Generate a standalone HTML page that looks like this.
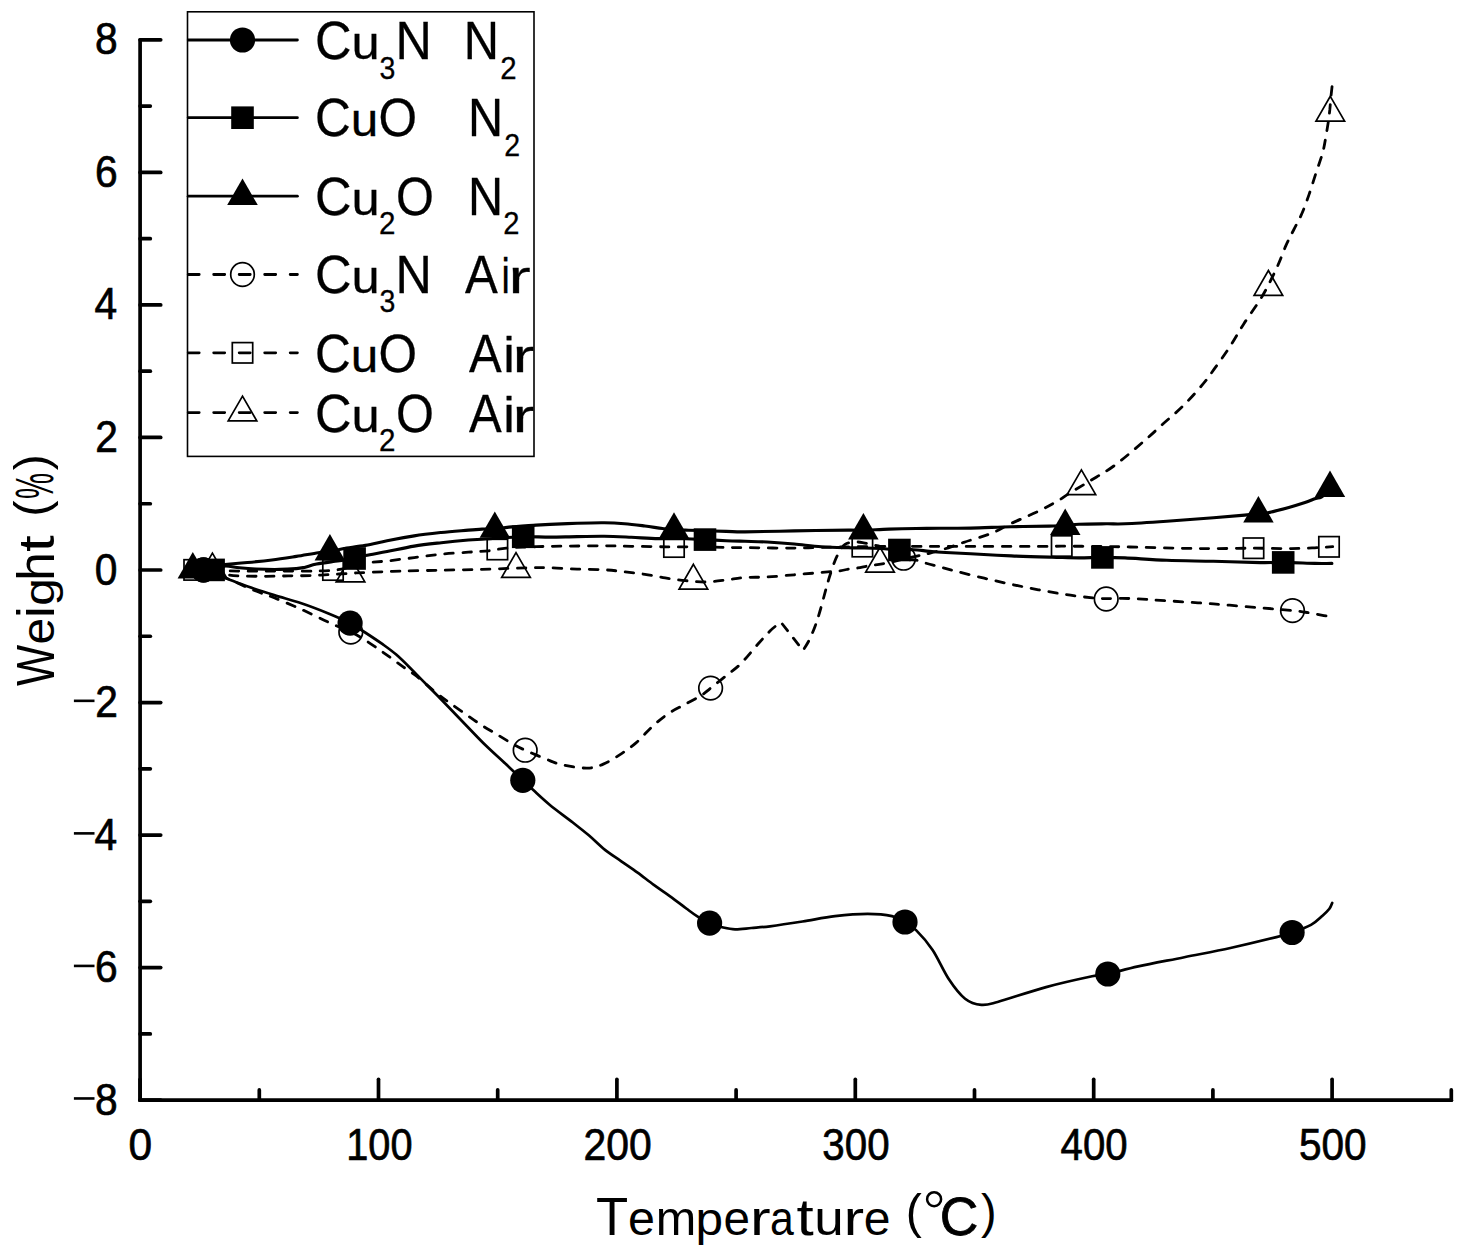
<!DOCTYPE html>
<html><head><meta charset="utf-8"><style>
html,body{margin:0;padding:0;background:#fff;}
svg{display:block;}
text{font-family:"Liberation Sans", sans-serif;fill:#000;}
.tk{stroke:#000;stroke-width:0.7px;}
.lg text{stroke:#000;stroke-width:0.3px;}
</style></head><body>
<svg width="1476" height="1254" viewBox="0 0 1476 1254">
<rect width="1476" height="1254" fill="#fff"/>
<path d="M203.5,570.0 C210.6,572.5 216.4,574.1 224.8,577.5 C233.2,580.9 245.7,586.9 253.9,590.3 C262.1,593.7 266.3,594.6 274.2,597.8 C282.1,601.0 292.3,605.2 301.3,609.3 C310.3,613.4 320.1,618.4 328.4,622.2 C336.6,626.0 344.9,629.3 350.8,632.1 C356.7,634.9 358.3,635.8 363.6,639.1 C368.9,642.4 377.2,648.2 382.6,652.0 C388.0,655.8 392.2,658.9 396.2,661.8 C400.2,664.7 403.1,666.8 406.5,669.2 C409.9,671.6 411.4,672.1 416.3,676.0 C421.2,679.9 430.4,688.1 435.8,692.5 C441.2,696.9 443.9,698.8 448.8,702.3 C453.7,705.8 459.6,709.9 465.0,713.7 C470.4,717.5 475.9,721.5 481.3,725.0 C486.7,728.5 492.2,731.5 497.6,734.8 C503.0,738.1 509.2,742.0 513.8,744.6 C518.4,747.2 519.8,747.8 525.2,750.2 C530.6,752.6 540.1,756.8 546.3,759.2 C552.5,761.7 555.8,763.4 562.6,764.9 C569.4,766.4 580.2,768.2 587.0,768.1 C593.8,768.0 597.8,766.4 603.3,764.1 C608.8,761.9 614.5,758.2 620.0,754.6 C625.5,751.0 630.9,747.3 636.3,742.6 C641.7,737.9 647.1,731.2 652.5,726.3 C657.9,721.4 663.4,716.9 668.8,713.3 C674.2,709.6 679.6,707.4 685.0,704.4 C690.4,701.4 697.0,698.1 701.3,695.4 C705.6,692.7 706.3,691.5 710.6,688.1 C714.9,684.7 721.9,679.1 727.0,675.0 C732.1,670.9 735.8,668.7 741.0,663.5 C746.2,658.3 753.2,649.4 758.0,644.0 C762.8,638.6 766.8,634.2 770.0,631.0 C773.2,627.8 775.2,626.5 777.0,625.0 C778.8,623.5 779.7,623.2 781.0,622.3 C788.3,631.7 795.7,641.1 803.0,650.5 C805.0,647.2 807.0,644.5 809.0,640.5 C811.0,636.5 813.2,631.4 815.0,626.5 C816.8,621.6 818.2,617.2 820.0,611.0 C821.8,604.8 824.4,594.8 826.0,589.0 C827.6,583.2 828.1,581.2 829.6,576.5 C831.1,571.8 833.2,565.2 834.9,561.0 C836.6,556.8 837.9,554.3 839.6,551.5 C841.3,548.7 842.5,546.0 845.0,544.4 C847.5,542.8 851.5,542.3 854.6,542.0 C857.7,541.7 860.6,542.3 863.6,542.8 C866.6,543.3 869.5,544.5 872.5,545.2 C875.5,545.9 876.3,544.8 881.5,547.0 C886.7,549.2 897.8,556.0 903.6,558.2 C909.4,560.4 912.5,559.3 916.4,560.2 C920.3,561.1 923.6,562.5 927.0,563.5 C930.4,564.5 931.8,564.8 936.8,566.1 C941.8,567.4 949.2,569.5 957.1,571.5 C965.0,573.5 975.2,576.1 984.2,578.2 C993.2,580.3 1002.3,582.4 1011.3,584.3 C1020.3,586.2 1029.4,588.1 1038.4,589.8 C1047.4,591.5 1056.5,593.1 1065.5,594.5 C1074.5,595.9 1085.8,597.2 1092.6,597.9 C1099.4,598.6 1100.1,598.5 1106.2,598.6 C1112.3,598.7 1119.3,598.1 1129.4,598.5 C1139.5,598.9 1152.8,599.9 1166.8,600.8 C1180.8,601.7 1197.9,602.7 1213.5,603.9 C1229.1,605.1 1247.1,606.7 1260.3,607.8 C1273.5,608.9 1284.7,609.8 1292.5,610.6 C1300.3,611.4 1300.3,611.4 1307.0,612.5 C1313.7,613.6 1324.1,615.6 1332.7,617.1" fill="none" stroke="#000" stroke-width="2.8" stroke-linejoin="round" stroke-dasharray="8.5 9.5" stroke-linecap="round"/>
<path d="M194.2,569.9 C206.3,570.2 220.2,570.7 230.4,570.9 C240.7,571.1 247.4,571.2 255.7,571.2 C264.0,571.2 271.9,571.0 280.0,571.0 C288.1,571.0 297.6,571.2 304.4,571.2 C311.2,571.2 315.6,571.1 320.7,570.9 C325.8,570.7 330.1,570.9 335.0,570.2 C339.9,569.6 344.9,568.2 350.0,567.0 C355.1,565.8 359.2,564.0 365.4,563.0 C371.6,562.0 379.0,561.9 387.1,561.0 C395.2,560.1 405.2,558.7 414.2,557.6 C423.2,556.5 432.3,555.1 441.3,554.2 C450.3,553.3 460.5,552.8 468.4,552.2 C476.3,551.6 482.4,551.5 488.7,550.8 C495.0,550.1 498.4,548.8 506.3,548.1 C514.2,547.4 527.2,547.0 536.2,546.7 C545.2,546.4 548.7,546.4 560.0,546.2 C571.3,546.1 592.3,545.8 604.2,545.8 C616.1,545.8 622.3,546.1 631.3,546.3 C640.3,546.4 651.3,546.6 658.4,546.7 C665.5,546.8 667.2,547.0 674.0,547.0 C680.8,547.0 690.3,546.6 699.0,546.7 C707.7,546.8 717.7,547.3 726.2,547.5 C734.7,547.7 738.7,547.6 750.0,547.7 C761.3,547.8 782.3,548.2 794.2,548.1 C806.1,548.0 809.9,547.6 821.3,547.4 C832.7,547.1 847.1,546.8 862.4,546.6 C877.7,546.4 896.9,546.4 913.2,546.4 C929.5,546.4 939.1,546.4 960.0,546.4 C980.9,546.4 1021.5,546.4 1038.4,546.4 C1055.4,546.4 1051.4,546.2 1061.7,546.2 C1072.0,546.2 1088.6,546.3 1100.0,546.4 C1111.4,546.5 1116.3,546.7 1130.0,547.0 C1143.7,547.3 1168.4,548.0 1182.3,548.3 C1196.2,548.6 1201.6,548.6 1213.5,548.6 C1225.4,548.6 1240.5,548.2 1253.5,548.2 C1266.5,548.2 1281.2,548.7 1291.4,548.6 C1301.6,548.5 1307.9,548.1 1314.8,547.8 C1321.7,547.5 1326.7,547.1 1332.7,546.7" fill="none" stroke="#000" stroke-width="2.8" stroke-linejoin="round" stroke-dasharray="8.5 9.5" stroke-linecap="round"/>
<path d="M212.4,569.7 C216.8,571.2 221.1,573.3 225.6,574.3 C230.1,575.3 233.0,575.6 239.4,575.9 C245.8,576.2 255.7,576.3 263.8,576.3 C271.9,576.3 280.1,576.0 288.2,575.9 C296.3,575.8 306.0,575.7 312.6,575.5 C319.2,575.3 321.7,575.1 328.0,574.7 C334.3,574.3 344.3,573.7 350.5,573.3 C356.7,572.9 357.0,572.9 365.4,572.5 C373.8,572.1 388.0,571.5 400.7,571.1 C413.4,570.7 427.8,570.5 441.3,570.2 C454.9,569.9 470.7,569.7 482.0,569.4 C493.3,569.1 501.0,568.7 509.0,568.4 C517.0,568.1 523.2,567.9 530.0,567.8 C536.8,567.7 542.1,567.6 550.0,567.8 C557.9,568.0 568.1,568.8 577.1,569.1 C586.1,569.4 596.3,569.3 604.2,569.8 C612.1,570.2 617.7,571.0 624.5,571.8 C631.3,572.5 638.1,573.3 644.9,574.3 C651.7,575.3 658.4,576.8 665.2,577.9 C672.0,579.0 678.7,579.9 685.5,580.6 C692.3,581.3 699.0,582.1 705.8,582.0 C712.6,581.9 719.7,580.8 726.2,580.0 C732.8,579.2 738.3,578.0 745.1,577.5 C751.9,577.0 758.9,577.5 767.1,577.0 C775.3,576.5 785.2,575.5 794.2,574.8 C803.2,574.0 813.7,573.2 821.3,572.5 C828.9,571.8 835.2,571.4 840.0,570.8 C844.8,570.2 846.9,569.3 849.8,568.8 C852.7,568.3 854.8,568.4 857.5,568.0 C860.2,567.6 863.5,566.8 866.0,566.3 C868.5,565.8 869.8,565.5 872.5,565.1 C875.2,564.7 877.7,564.8 882.3,563.9 C886.9,563.0 894.0,561.4 900.0,560.0 C906.0,558.6 913.1,556.9 918.0,555.8 C922.9,554.7 925.3,554.3 929.4,553.3 C933.5,552.3 936.6,551.5 942.4,549.7 C948.1,547.9 955.8,545.0 963.9,542.3 C972.0,539.6 983.1,536.6 991.0,533.5 C998.9,530.4 1003.4,527.1 1011.3,523.4 C1019.2,519.7 1030.5,515.0 1038.4,511.2 C1046.3,507.4 1054.0,503.0 1058.7,500.3 C1063.5,497.6 1061.8,498.1 1066.9,494.9 C1072.0,491.7 1081.6,486.0 1089.4,481.2 C1097.2,476.4 1105.0,472.4 1113.8,466.0 C1122.6,459.6 1134.2,449.6 1142.3,442.6 C1150.4,435.7 1155.8,430.4 1162.6,424.3 C1169.4,418.2 1176.2,412.8 1183.0,406.0 C1189.8,399.2 1197.9,390.1 1203.3,383.7 C1208.7,377.3 1211.0,373.5 1215.4,367.4 C1219.8,361.3 1225.0,354.3 1229.7,347.0 C1234.5,339.7 1238.5,332.1 1243.9,323.7 C1249.3,315.2 1256.8,305.5 1262.2,296.3 C1267.6,287.1 1272.4,277.1 1276.4,268.6 C1280.4,260.1 1283.1,251.9 1286.0,245.4 C1288.9,238.9 1291.2,234.8 1293.9,229.5 C1296.6,224.2 1299.4,219.3 1301.9,213.5 C1304.4,207.7 1306.7,201.3 1309.1,194.4 C1311.5,187.5 1314.0,179.0 1316.3,172.1 C1318.5,165.2 1321.0,158.8 1322.6,152.9 C1324.2,147.1 1324.9,142.1 1325.8,137.0 C1326.7,131.9 1327.5,127.1 1328.2,122.6 C1328.9,118.1 1329.3,114.2 1329.8,109.9 C1330.2,105.7 1330.5,101.2 1330.9,97.1 C1331.3,93.0 1331.8,89.2 1332.2,85.2" fill="none" stroke="#000" stroke-width="2.8" stroke-linejoin="round" stroke-dasharray="8.5 9.5" stroke-linecap="round"/>
<circle cx="203.5" cy="570.0" r="11.8" fill="none" stroke="#000" stroke-width="1.7"/>
<circle cx="350.8" cy="632.1" r="11.8" fill="none" stroke="#000" stroke-width="1.7"/>
<circle cx="525.2" cy="750.2" r="11.8" fill="none" stroke="#000" stroke-width="1.7"/>
<circle cx="710.6" cy="688.1" r="11.8" fill="none" stroke="#000" stroke-width="1.7"/>
<circle cx="903.6" cy="558.2" r="11.8" fill="none" stroke="#000" stroke-width="1.7"/>
<circle cx="1106.2" cy="599.0" r="11.8" fill="none" stroke="#000" stroke-width="1.7"/>
<circle cx="1292.5" cy="610.6" r="11.8" fill="none" stroke="#000" stroke-width="1.7"/>
<rect x="184.0" y="559.7" width="20.4" height="20.4" fill="none" stroke="#000" stroke-width="1.7"/>
<rect x="322.8" y="559.8" width="20.4" height="20.4" fill="none" stroke="#000" stroke-width="1.7"/>
<rect x="487.2" y="539.3" width="20.4" height="20.4" fill="none" stroke="#000" stroke-width="1.7"/>
<rect x="663.8" y="536.8" width="20.4" height="20.4" fill="none" stroke="#000" stroke-width="1.7"/>
<rect x="852.2" y="536.4" width="20.4" height="20.4" fill="none" stroke="#000" stroke-width="1.7"/>
<rect x="1051.5" y="535.8" width="20.4" height="20.4" fill="none" stroke="#000" stroke-width="1.7"/>
<rect x="1243.3" y="538.0" width="20.4" height="20.4" fill="none" stroke="#000" stroke-width="1.7"/>
<rect x="1318.8" y="536.6" width="20.4" height="20.4" fill="none" stroke="#000" stroke-width="1.7"/>
<polygon points="212.4,553.2 226.7,578.0 198.1,578.0" fill="none" stroke="#000" stroke-width="1.7"/>
<polygon points="350.5,557.0 364.8,581.8 336.2,581.8" fill="none" stroke="#000" stroke-width="1.7"/>
<polygon points="516.0,552.6 530.3,577.4 501.7,577.4" fill="none" stroke="#000" stroke-width="1.7"/>
<polygon points="693.4,564.3 707.7,589.1 679.1,589.1" fill="none" stroke="#000" stroke-width="1.7"/>
<polygon points="880.0,547.3 894.3,572.1 865.7,572.1" fill="none" stroke="#000" stroke-width="1.7"/>
<polygon points="1081.4,469.9 1095.7,494.7 1067.1,494.7" fill="none" stroke="#000" stroke-width="1.7"/>
<polygon points="1268.4,270.5 1282.7,295.3 1254.1,295.3" fill="none" stroke="#000" stroke-width="1.7"/>
<polygon points="1330.3,96.3 1344.6,121.1 1316.0,121.1" fill="none" stroke="#000" stroke-width="1.7"/>
<path d="M203.5,569.8 C210.4,572.4 216.8,574.8 224.1,577.5 C231.4,580.2 238.8,583.4 247.1,586.3 C255.4,589.2 265.2,592.3 274.2,595.1 C283.2,597.9 292.3,600.2 301.3,603.2 C310.3,606.2 320.3,610.1 328.4,613.4 C336.5,616.7 344.2,620.1 350.1,623.1 C356.0,626.1 358.2,628.0 363.6,631.5 C369.0,635.0 377.2,640.4 382.6,644.2 C388.0,648.1 391.7,650.7 396.2,654.6 C400.7,658.5 404.3,662.1 409.7,667.5 C415.1,672.9 422.3,680.3 428.7,686.8 C435.1,693.2 441.4,699.6 447.8,706.2 C454.2,712.8 460.6,719.6 467.0,726.2 C473.4,732.8 479.7,739.6 486.1,745.8 C492.5,752.0 499.2,757.9 505.3,763.6 C511.4,769.4 518.1,775.9 522.8,780.3 C527.5,784.7 528.8,786.0 533.3,790.1 C537.8,794.2 543.1,799.3 549.6,804.7 C556.1,810.1 566.0,817.2 572.5,822.3 C579.0,827.4 583.4,830.7 588.8,835.3 C594.2,839.9 599.6,845.6 605.0,849.9 C610.4,854.2 615.9,857.5 621.3,861.3 C626.7,865.1 632.2,868.8 637.6,872.7 C643.0,876.6 648.4,881.0 653.8,884.9 C659.2,888.8 664.7,892.4 670.1,896.3 C675.5,900.2 681.7,905.1 686.3,908.5 C690.9,911.9 693.8,914.2 697.7,916.6 C701.6,919.0 705.5,921.3 709.6,923.1 C713.7,924.9 717.9,926.2 722.1,927.2 C726.4,928.2 730.2,929.2 735.1,929.3 C740.0,929.4 745.6,928.5 751.4,928.0 C757.2,927.5 761.5,927.4 770.0,926.3 C778.5,925.2 791.7,923.2 802.5,921.5 C813.3,919.8 824.1,917.4 835.0,916.1 C845.9,914.8 858.1,913.8 867.6,913.8 C877.1,913.8 885.8,914.7 892.0,916.1 C898.2,917.5 901.0,919.6 905.0,922.0 C909.0,924.4 911.7,925.8 916.3,930.4 C920.9,935.0 927.2,941.8 932.6,949.9 C938.0,958.0 943.5,971.1 948.9,979.2 C954.3,987.3 959.7,994.4 965.1,998.7 C970.5,1003.0 976.0,1004.4 981.4,1004.9 C986.8,1005.4 986.8,1005.0 997.6,1002.0 C1008.4,999.0 1030.3,991.4 1046.1,987.1 C1061.8,982.8 1081.8,978.5 1092.1,976.3 C1102.4,974.1 1100.1,975.6 1107.8,974.0 C1115.5,972.4 1125.5,969.2 1138.2,966.4 C1151.0,963.6 1168.9,960.3 1184.3,957.2 C1199.7,954.1 1215.1,951.4 1230.4,948.0 C1245.8,944.6 1266.1,939.7 1276.4,937.1 C1286.7,934.5 1286.3,934.5 1292.1,932.5 C1297.9,930.5 1305.9,927.7 1311.0,924.9 C1316.1,922.1 1319.4,918.4 1322.5,915.7 C1325.6,913.0 1327.8,910.9 1329.4,908.8 C1331.0,906.7 1331.3,904.9 1332.2,903.0" fill="none" stroke="#000" stroke-width="2.7" stroke-linejoin="round" stroke-linecap="round"/>
<path d="M213.6,569.9 C217.3,568.6 220.5,566.5 224.8,566.1 C229.1,565.8 234.2,567.3 239.4,567.8 C244.6,568.3 248.9,568.7 255.7,569.0 C262.5,569.3 273.2,569.5 280.0,569.4 C286.8,569.3 292.2,568.9 296.3,568.6 C300.4,568.3 301.0,568.1 304.4,567.4 C307.8,566.6 311.5,565.1 316.6,564.1 C321.7,563.1 328.7,562.2 335.0,561.3 C341.3,560.4 349.5,559.5 354.6,558.5 C359.7,557.5 360.0,556.8 365.4,555.6 C370.8,554.4 379.0,553.1 387.1,551.5 C395.2,549.9 405.2,547.6 414.2,546.1 C423.2,544.6 432.3,543.7 441.3,542.7 C450.3,541.7 461.6,540.6 468.4,540.0 C475.2,539.4 476.7,539.6 482.0,539.3 C487.3,539.0 493.1,538.4 500.0,538.0 C506.9,537.6 514.9,536.9 523.2,536.8 C531.5,536.6 541.0,537.1 550.0,537.1 C559.0,537.1 568.1,536.7 577.1,536.6 C586.1,536.5 595.2,536.2 604.2,536.3 C613.2,536.4 622.3,536.9 631.3,537.3 C640.3,537.7 649.4,538.4 658.4,538.6 C667.4,538.9 677.7,538.6 685.5,538.8 C693.3,539.0 698.2,539.3 705.0,539.6 C711.8,539.9 719.5,540.4 726.2,540.7 C732.9,541.0 738.2,541.1 745.0,541.3 C751.8,541.5 758.9,541.5 767.1,542.0 C775.3,542.5 785.2,543.2 794.2,544.0 C803.2,544.8 812.3,546.1 821.3,546.7 C830.3,547.3 841.2,547.5 848.4,547.7 C855.6,547.9 859.0,547.9 864.4,548.0 C869.8,548.1 874.9,548.2 880.7,548.5 C886.5,548.8 894.0,549.8 899.4,550.0 C904.8,550.2 908.2,549.5 913.2,549.7 C918.2,549.9 924.0,550.8 929.4,551.3 C934.8,551.8 938.8,552.1 945.7,552.5 C952.6,552.9 959.8,553.2 970.7,553.8 C981.6,554.4 997.8,555.3 1011.3,555.9 C1024.8,556.5 1040.7,556.9 1052.0,557.2 C1063.3,557.5 1070.6,557.9 1079.0,557.9 C1087.4,557.9 1094.7,557.4 1102.4,557.4 C1110.1,557.4 1114.3,557.4 1125.0,557.9 C1135.7,558.4 1152.0,559.7 1166.8,560.3 C1181.5,560.9 1197.9,560.9 1213.5,561.3 C1229.1,561.7 1248.7,562.4 1260.3,562.6 C1271.9,562.8 1274.1,562.3 1283.2,562.4 C1292.3,562.5 1306.7,563.2 1314.8,563.4 C1322.9,563.6 1326.2,563.4 1331.9,563.4" fill="none" stroke="#000" stroke-width="3.1" stroke-linejoin="round" stroke-linecap="round"/>
<path d="M192.8,569.7 C198.5,568.5 204.7,566.9 210.0,566.0 C215.3,565.1 218.6,565.1 224.8,564.5 C231.1,563.9 239.7,563.2 247.5,562.5 C255.3,561.8 263.8,561.0 271.9,560.0 C280.0,559.0 288.6,557.6 296.3,556.4 C304.0,555.2 312.7,553.5 318.3,552.7 C323.9,551.9 325.8,552.4 329.9,551.7 C334.0,551.0 336.9,549.8 342.8,548.7 C348.7,547.7 358.0,546.7 365.4,545.4 C372.8,544.1 379.0,542.3 387.1,540.7 C395.2,539.1 405.2,537.3 414.2,535.9 C423.2,534.5 432.3,533.5 441.3,532.5 C450.3,531.5 461.6,530.7 468.4,530.1 C475.2,529.5 477.6,529.3 482.0,529.1 C486.4,528.9 490.3,529.3 494.8,529.0 C499.3,528.7 502.1,527.8 509.0,527.1 C515.9,526.5 529.4,525.6 536.2,525.1 C543.0,524.6 543.2,524.7 550.0,524.4 C556.8,524.1 568.1,523.6 577.1,523.3 C586.1,523.0 596.3,522.7 604.2,522.8 C612.1,522.9 617.7,523.2 624.5,523.7 C631.3,524.2 638.6,525.2 644.9,526.0 C651.2,526.8 657.6,527.9 662.5,528.5 C667.4,529.1 670.2,529.5 674.0,529.8 C677.8,530.1 681.3,530.0 685.5,530.1 C689.7,530.2 692.2,530.3 699.0,530.5 C705.8,530.7 718.5,531.2 726.2,531.4 C733.9,531.6 733.7,532.0 745.0,531.9 C756.3,531.8 777.0,531.2 794.2,530.9 C811.4,530.6 836.9,530.2 848.4,530.1 C859.9,530.0 856.6,530.5 863.4,530.3 C870.2,530.1 880.2,529.4 889.0,529.1 C897.8,528.8 907.7,528.6 916.2,528.5 C924.7,528.4 930.9,528.3 940.0,528.2 C949.1,528.1 958.8,528.4 970.7,528.1 C982.6,527.9 998.2,527.0 1011.3,526.7 C1024.4,526.4 1040.2,526.3 1049.2,526.1 C1058.2,525.9 1060.2,525.9 1065.2,525.6 C1070.2,525.3 1072.2,524.6 1079.0,524.3 C1085.8,524.0 1098.5,523.9 1106.2,523.8 C1113.9,523.7 1114.9,524.2 1125.0,523.8 C1135.1,523.4 1152.0,522.3 1166.8,521.3 C1181.5,520.3 1200.5,518.7 1213.5,517.7 C1226.5,516.7 1237.2,515.8 1244.7,515.1 C1252.2,514.4 1254.5,514.1 1258.4,513.7 C1262.3,513.3 1262.9,513.8 1268.0,512.7 C1273.1,511.7 1282.6,509.1 1288.8,507.4 C1295.0,505.7 1300.5,504.0 1305.0,502.5 C1309.5,501.0 1312.9,499.4 1315.6,498.5 C1318.3,497.6 1318.9,498.6 1321.3,497.2 C1323.7,495.8 1327.1,492.4 1330.0,490.0" fill="none" stroke="#000" stroke-width="3.1" stroke-linejoin="round" stroke-linecap="round"/>
<circle cx="203.5" cy="569.8" r="12.6"/>
<circle cx="350.1" cy="623.1" r="12.6"/>
<circle cx="522.8" cy="780.3" r="12.6"/>
<circle cx="709.6" cy="923.1" r="12.6"/>
<circle cx="905.0" cy="922.0" r="12.6"/>
<circle cx="1107.8" cy="974.0" r="12.6"/>
<circle cx="1292.1" cy="932.5" r="12.6"/>
<rect x="202.3" y="558.6" width="22.6" height="22.6"/>
<rect x="343.3" y="547.2" width="22.6" height="22.6"/>
<rect x="511.9" y="525.5" width="22.6" height="22.6"/>
<rect x="693.7" y="528.3" width="22.6" height="22.6"/>
<rect x="888.1" y="538.7" width="22.6" height="22.6"/>
<rect x="1091.1" y="546.1" width="22.6" height="22.6"/>
<rect x="1271.9" y="551.1" width="22.6" height="22.6"/>
<polygon points="192.8,552.1 208.1,578.5 177.6,578.5"/>
<polygon points="329.9,534.1 345.1,560.5 314.6,560.5"/>
<polygon points="494.8,511.4 510.1,537.8 479.6,537.8"/>
<polygon points="674.0,512.2 689.2,538.6 658.8,538.6"/>
<polygon points="863.4,513.0 878.6,539.4 848.1,539.4"/>
<polygon points="1065.2,508.5 1080.5,534.9 1050.0,534.9"/>
<polygon points="1258.4,496.1 1273.7,522.5 1243.2,522.5"/>
<polygon points="1330.0,470.6 1345.2,497.0 1314.8,497.0"/>
<line x1="140.1" y1="39.84000000000003" x2="140.1" y2="1100.1599999999999" stroke="#000" stroke-width="3.7" stroke-linecap="round"/>
<line x1="140.1" y1="1100.1599999999999" x2="1451.3" y2="1100.1599999999999" stroke="#000" stroke-width="3.7" stroke-linecap="round"/>
<line x1="140.1" y1="1100.16" x2="160.7" y2="1100.16" stroke="#000" stroke-width="3.7" stroke-linecap="round"/>
<line x1="140.1" y1="1033.89" x2="150.29999999999998" y2="1033.89" stroke="#000" stroke-width="3.7" stroke-linecap="round"/>
<line x1="140.1" y1="967.62" x2="160.7" y2="967.62" stroke="#000" stroke-width="3.7" stroke-linecap="round"/>
<line x1="140.1" y1="901.35" x2="150.29999999999998" y2="901.35" stroke="#000" stroke-width="3.7" stroke-linecap="round"/>
<line x1="140.1" y1="835.08" x2="160.7" y2="835.08" stroke="#000" stroke-width="3.7" stroke-linecap="round"/>
<line x1="140.1" y1="768.81" x2="150.29999999999998" y2="768.81" stroke="#000" stroke-width="3.7" stroke-linecap="round"/>
<line x1="140.1" y1="702.54" x2="160.7" y2="702.54" stroke="#000" stroke-width="3.7" stroke-linecap="round"/>
<line x1="140.1" y1="636.27" x2="150.29999999999998" y2="636.27" stroke="#000" stroke-width="3.7" stroke-linecap="round"/>
<line x1="140.1" y1="570.00" x2="160.7" y2="570.00" stroke="#000" stroke-width="3.7" stroke-linecap="round"/>
<line x1="140.1" y1="503.73" x2="150.29999999999998" y2="503.73" stroke="#000" stroke-width="3.7" stroke-linecap="round"/>
<line x1="140.1" y1="437.46" x2="160.7" y2="437.46" stroke="#000" stroke-width="3.7" stroke-linecap="round"/>
<line x1="140.1" y1="371.19" x2="150.29999999999998" y2="371.19" stroke="#000" stroke-width="3.7" stroke-linecap="round"/>
<line x1="140.1" y1="304.92" x2="160.7" y2="304.92" stroke="#000" stroke-width="3.7" stroke-linecap="round"/>
<line x1="140.1" y1="238.65" x2="150.29999999999998" y2="238.65" stroke="#000" stroke-width="3.7" stroke-linecap="round"/>
<line x1="140.1" y1="172.38" x2="160.7" y2="172.38" stroke="#000" stroke-width="3.7" stroke-linecap="round"/>
<line x1="140.1" y1="106.11" x2="150.29999999999998" y2="106.11" stroke="#000" stroke-width="3.7" stroke-linecap="round"/>
<line x1="140.1" y1="39.84" x2="160.7" y2="39.84" stroke="#000" stroke-width="3.7" stroke-linecap="round"/>
<line x1="140.10" y1="1100.1599999999999" x2="140.10" y2="1079.36" stroke="#000" stroke-width="3.7" stroke-linecap="round"/>
<line x1="259.30" y1="1100.1599999999999" x2="259.30" y2="1089.9599999999998" stroke="#000" stroke-width="3.7" stroke-linecap="round"/>
<line x1="378.50" y1="1100.1599999999999" x2="378.50" y2="1079.36" stroke="#000" stroke-width="3.7" stroke-linecap="round"/>
<line x1="497.70" y1="1100.1599999999999" x2="497.70" y2="1089.9599999999998" stroke="#000" stroke-width="3.7" stroke-linecap="round"/>
<line x1="616.90" y1="1100.1599999999999" x2="616.90" y2="1079.36" stroke="#000" stroke-width="3.7" stroke-linecap="round"/>
<line x1="736.10" y1="1100.1599999999999" x2="736.10" y2="1089.9599999999998" stroke="#000" stroke-width="3.7" stroke-linecap="round"/>
<line x1="855.30" y1="1100.1599999999999" x2="855.30" y2="1079.36" stroke="#000" stroke-width="3.7" stroke-linecap="round"/>
<line x1="974.50" y1="1100.1599999999999" x2="974.50" y2="1089.9599999999998" stroke="#000" stroke-width="3.7" stroke-linecap="round"/>
<line x1="1093.70" y1="1100.1599999999999" x2="1093.70" y2="1079.36" stroke="#000" stroke-width="3.7" stroke-linecap="round"/>
<line x1="1212.90" y1="1100.1599999999999" x2="1212.90" y2="1089.9599999999998" stroke="#000" stroke-width="3.7" stroke-linecap="round"/>
<line x1="1332.10" y1="1100.1599999999999" x2="1332.10" y2="1079.36" stroke="#000" stroke-width="3.7" stroke-linecap="round"/>
<line x1="1451.30" y1="1100.1599999999999" x2="1451.30" y2="1089.9599999999998" stroke="#000" stroke-width="3.7" stroke-linecap="round"/>
<text transform="translate(94.99,1114.66) scale(0.9200,1)" font-size="44.3" class="tk">8</text>
<rect x="73.9" y="1097.16" width="20.6" height="2.6" fill="#000"/>
<text transform="translate(95.03,982.12) scale(0.9200,1)" font-size="44.3" class="tk">6</text>
<rect x="73.9" y="964.62" width="20.6" height="2.6" fill="#000"/>
<text transform="translate(94.42,849.58) scale(0.9200,1)" font-size="44.3" class="tk">4</text>
<rect x="73.9" y="832.08" width="20.6" height="2.6" fill="#000"/>
<text transform="translate(95.28,717.04) scale(0.9200,1)" font-size="44.3" class="tk">2</text>
<rect x="73.9" y="699.54" width="20.6" height="2.6" fill="#000"/>
<text transform="translate(94.83,584.50) scale(0.9200,1)" font-size="44.3" class="tk">0</text>
<text transform="translate(95.28,451.96) scale(0.9200,1)" font-size="44.3" class="tk">2</text>
<text transform="translate(94.42,319.42) scale(0.9200,1)" font-size="44.3" class="tk">4</text>
<text transform="translate(95.03,186.88) scale(0.9200,1)" font-size="44.3" class="tk">6</text>
<text transform="translate(94.99,54.34) scale(0.9200,1)" font-size="44.3" class="tk">8</text>
<text transform="translate(128.54,1160.30) scale(0.9587,1)" font-size="44.3" class="tk">0</text>
<text transform="translate(346.28,1160.30) scale(0.8968,1)" font-size="44.3" class="tk">100</text>
<text transform="translate(583.55,1160.30) scale(0.9235,1)" font-size="44.3" class="tk">200</text>
<text transform="translate(822.37,1160.30) scale(0.9095,1)" font-size="44.3" class="tk">300</text>
<text transform="translate(1060.58,1160.30) scale(0.9066,1)" font-size="44.3" class="tk">400</text>
<text transform="translate(1298.88,1160.30) scale(0.9163,1)" font-size="44.3" class="tk">500</text>
<text transform="translate(596.04,1234.50) scale(0.9768,1.000)" font-size="53.9">T</text>
<text transform="translate(628.06,1234.50) scale(0.9000,0.880)" font-size="53.9">e</text>
<text transform="translate(655.79,1234.50) scale(0.9025,0.880)" font-size="53.9">m</text>
<text transform="translate(695.53,1234.50) scale(0.9194,0.860)" font-size="53.9">p</text>
<text transform="translate(723.60,1234.50) scale(0.8842,0.880)" font-size="53.9">e</text>
<text transform="translate(750.11,1234.50) scale(1.1500,0.880)" font-size="53.9">r</text>
<text transform="translate(770.00,1234.50) scale(0.7941,0.880)" font-size="53.9">a</text>
<text transform="translate(796.49,1234.50) scale(1.1500,0.945)" font-size="53.9">t</text>
<text transform="translate(814.16,1234.50) scale(0.9822,0.880)" font-size="53.9">u</text>
<text transform="translate(843.51,1234.50) scale(1.1500,0.880)" font-size="53.9">r</text>
<text transform="translate(863.68,1234.50) scale(0.8921,0.880)" font-size="53.9">e</text>
<text transform="translate(905.81,1228.30) scale(0.9959,1)" font-size="48.5">(</text>
<text transform="translate(981.02,1228.30) scale(0.9648,1)" font-size="48.5">)</text>
<circle cx="934.1" cy="1199.2" r="7.0" fill="none" stroke="#000" stroke-width="2.5"/>
<text x="939.78" y="1234.60" font-size="53.4" stroke="#000" stroke-width="0.8">C</text>
<text transform="rotate(-90) translate(-686.02,53.80) scale(0.8061,1.000)" font-size="54">W</text>
<text transform="rotate(-90) translate(-644.40,53.80) scale(0.8826,0.870)" font-size="54">e</text>
<text transform="rotate(-90) translate(-618.08,53.80) scale(0.9891,0.957)" font-size="54">i</text>
<text transform="rotate(-90) translate(-605.79,53.80) scale(0.9218,0.800)" font-size="54">g</text>
<text transform="rotate(-90) translate(-580.75,53.80) scale(0.9523,0.950)" font-size="54">h</text>
<text transform="rotate(-90) translate(-551.95,53.80) scale(1.1200,0.940)" font-size="54">t</text>
<text transform="rotate(-90) translate(-516.72,48.40) scale(1.0037,1)" font-size="48.5">(</text>
<text transform="rotate(-90) translate(-499.06,53.30) scale(0.5536,1)" font-size="53">%</text>
<text transform="rotate(-90) translate(-470.29,48.40) scale(0.9881,1)" font-size="48.5">)</text>
<rect x="187.5" y="11.8" width="346.5" height="444.6" fill="#fff" stroke="#000" stroke-width="1.6"/>
<defs><clipPath id="lg"><rect x="187.5" y="11.8" width="346" height="444.6"/></clipPath></defs>
<g clip-path="url(#lg)" class="lg">
<text transform="translate(315.02,59.10) scale(0.9519,1.000)" font-size="53.2">C</text>
<text transform="translate(351.59,59.10) scale(0.9519,0.860)" font-size="53.2">u</text>
<text transform="translate(379.42,78.60) scale(0.9013,1)" font-size="31.6">3</text>
<text transform="translate(395.38,59.10) scale(0.9449,1)" font-size="53.2">N</text>
<text transform="translate(463.80,59.10) scale(0.9180,1)" font-size="53.2">N</text>
<text transform="translate(500.13,78.60) scale(0.9299,1)" font-size="31.6">2</text>
<text transform="translate(315.07,136.30) scale(0.9315,1.000)" font-size="53.2">C</text>
<text transform="translate(350.86,136.30) scale(0.9315,0.860)" font-size="53.2">u</text>
<text transform="translate(378.42,136.30) scale(0.9315,1.000)" font-size="53.2">O</text>
<text transform="translate(468.01,136.30) scale(0.9146,1)" font-size="53.2">N</text>
<text transform="translate(504.27,155.80) scale(0.9022,1)" font-size="31.6">2</text>
<text transform="translate(315.02,214.80) scale(0.9519,1.000)" font-size="53.2">C</text>
<text transform="translate(351.59,214.80) scale(0.9519,0.860)" font-size="53.2">u</text>
<text transform="translate(379.02,234.30) scale(0.9369,1)" font-size="31.6">2</text>
<text transform="translate(396.11,214.80) scale(0.9165,1)" font-size="53.2">O</text>
<text transform="translate(468.01,214.80) scale(0.9146,1)" font-size="53.2">N</text>
<text transform="translate(503.14,234.30) scale(0.9230,1)" font-size="31.6">2</text>
<text transform="translate(315.02,292.80) scale(0.9519,1.000)" font-size="53.2">C</text>
<text transform="translate(351.59,292.80) scale(0.9519,0.860)" font-size="53.2">u</text>
<text transform="translate(379.42,312.30) scale(0.9013,1)" font-size="31.6">3</text>
<text transform="translate(395.38,292.80) scale(0.9449,1)" font-size="53.2">N</text>
<text transform="translate(464.90,292.80) scale(0.9243,1.000)" font-size="53.2">A</text>
<text transform="translate(501.49,292.80) scale(0.7049,0.935)" font-size="53.2">i</text>
<text transform="translate(508.45,292.80) scale(1.2500,0.860)" font-size="53.2">r</text>
<text transform="translate(315.07,371.80) scale(0.9315,1.000)" font-size="53.2">C</text>
<text transform="translate(350.86,371.80) scale(0.9315,0.860)" font-size="53.2">u</text>
<text transform="translate(378.42,371.80) scale(0.9315,1.000)" font-size="53.2">O</text>
<text transform="translate(469.00,371.80) scale(0.9214,1.000)" font-size="53.2">A</text>
<text transform="translate(503.30,371.80) scale(0.9826,0.935)" font-size="53.2">i</text>
<text transform="translate(512.55,371.80) scale(1.2500,0.860)" font-size="53.2">r</text>
<text transform="translate(315.02,431.50) scale(0.9519,1.000)" font-size="53.2">C</text>
<text transform="translate(351.59,431.50) scale(0.9519,0.860)" font-size="53.2">u</text>
<text transform="translate(379.02,451.00) scale(0.9369,1)" font-size="31.6">2</text>
<text transform="translate(396.11,431.50) scale(0.9165,1)" font-size="53.2">O</text>
<text transform="translate(469.00,431.50) scale(0.9214,1.000)" font-size="53.2">A</text>
<text transform="translate(503.30,431.50) scale(0.9826,0.935)" font-size="53.2">i</text>
<text transform="translate(512.55,431.50) scale(1.2500,0.860)" font-size="53.2">r</text>
</g>
<line x1="188.2" y1="40.0" x2="297.4" y2="40.0" stroke="#000" stroke-width="2.8" stroke-linecap="round"/>
<line x1="188.2" y1="117.7" x2="297.4" y2="117.7" stroke="#000" stroke-width="2.8" stroke-linecap="round"/>
<line x1="188.2" y1="196.2" x2="297.4" y2="196.2" stroke="#000" stroke-width="2.8" stroke-linecap="round"/>
<line x1="188.2" y1="274.5" x2="297.4" y2="274.5" stroke="#000" stroke-width="2.8" stroke-linecap="round" stroke-dasharray="11 14.5"/>
<line x1="188.2" y1="352.8" x2="297.4" y2="352.8" stroke="#000" stroke-width="2.8" stroke-linecap="round" stroke-dasharray="11 14.5"/>
<line x1="188.2" y1="412.6" x2="297.4" y2="412.6" stroke="#000" stroke-width="2.8" stroke-linecap="round" stroke-dasharray="11 14.5"/>
<circle cx="242.5" cy="40.0" r="12.6"/>
<rect x="231.2" y="106.4" width="22.6" height="22.6"/>
<polygon points="242.5,178.6 257.8,205.0 227.2,205.0"/>
<circle cx="242.5" cy="274.5" r="11.8" fill="none" stroke="#000" stroke-width="1.7"/>
<rect x="232.3" y="342.6" width="20.4" height="20.4" fill="none" stroke="#000" stroke-width="1.7"/>
<polygon points="242.5,396.1 256.8,420.9 228.2,420.9" fill="none" stroke="#000" stroke-width="1.7"/>
</svg></body></html>
